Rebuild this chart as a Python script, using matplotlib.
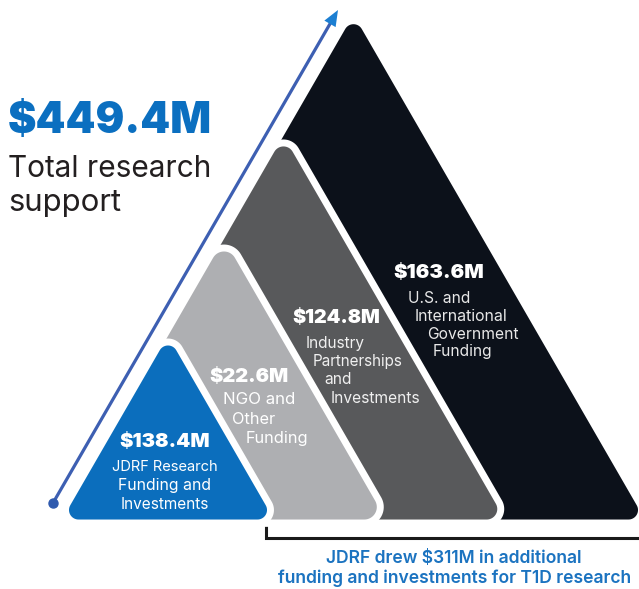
import numpy as np
import matplotlib
matplotlib.use("Agg")
import matplotlib.pyplot as plt
from matplotlib.patches import Polygon

# ---------------- data ----------------
values = [138.4, 22.6, 124.8, 163.6]
amount_labels = ["$138.4M", "$22.6M", "$124.8M", "$163.6M"]
category_lines = [
    ["JDRF Research", "Funding and", "Investments"],
    ["NGO and", "Other", "Funding"],
    ["Industry", "Partnerships", "and", "Investments"],
    ["U.S. and", "International", "Government", "Funding"],
]
total_label = "$449.4M"
total_text = ["Total research", "support"]
footnote = ["JDRF drew $311M in additional",
            "funding and investments for T1D research"]

# ---------------- style / layout ----------------
colors = ["#0b6ebd", "#aeafb2", "#58595b", "#0c111a"]
blue_text = "#0b6fc0"
W, H = 639, 589
fig = plt.figure(figsize=(W / 100, H / 100), dpi=100)
ax = fig.add_axes([0, 0, 1, 1])
ax.set_xlim(0, W)
ax.set_ylim(H, 0)
ax.axis("off")
renderer = fig.canvas.get_renderer()

FONT = ["Inter", "DejaVu Sans"]


def rounded_tri(xl, xr, yb, r, n=24):
    apex = np.array([(xl + xr) / 2, yb - (xr - xl) * np.sqrt(3) / 2])
    verts = [np.array([xl, yb], float), apex, np.array([xr, yb], float)]
    pts = []
    for i in range(3):
        v = verts[i]
        p = verts[i - 1]
        q = verts[(i + 1) % 3]
        u1 = (p - v) / np.linalg.norm(p - v)
        u2 = (q - v) / np.linalg.norm(q - v)
        bis = u1 + u2
        bis /= np.linalg.norm(bis)
        c = v + bis * 2 * r
        t1 = v + u1 * r * np.sqrt(3)
        t2 = v + u2 * r * np.sqrt(3)
        a1 = np.arctan2(t1[1] - c[1], t1[0] - c[0])
        a2 = np.arctan2(t2[1] - c[1], t2[0] - c[0])
        d = (a2 - a1 + np.pi) % (2 * np.pi) - np.pi
        angs = a1 + np.linspace(0, d, n)
        pts += list(zip(c[0] + r * np.cos(angs), c[1] + r * np.sin(angs)))
    return np.array(pts)


# triangle layout (left base shared, right base per segment)
x_left, y_base = 56, 523
x_rights = [280, 392, 511, 651]
radii = [13, 16, 14, 13]
for i in [3, 2, 1, 0]:
    pts = rounded_tri(x_left, x_rights[i], y_base, radii[i])
    ax.add_patch(Polygon(pts, closed=True, fc=colors[i], ec="white",
                         lw=5, joinstyle="round", zorder=2 + (3 - i)))


def fit_text(x, y, s, width, ha="left", **kw):
    t = ax.text(x, y, s, ha=ha, va="baseline", family=FONT, **kw)
    bb = t.get_window_extent(renderer)
    t.set_fontsize(t.get_fontsize() * width / bb.width)
    return t


# arrow
x0, y0 = 53, 503
tip = np.array([338.0, 10.0])
dvec = tip - np.array([x0, y0])
dvec /= np.linalg.norm(dvec)
nvec = np.array([-dvec[1], dvec[0]])
head_len, head_w = 16, 13
base = tip - dvec * head_len
ax.plot([x0, base[0] + dvec[0] * 2], [y0, base[1] + dvec[1] * 2],
        color="#3d5fb2", lw=2.3, solid_capstyle="butt", zorder=1)
ax.plot([x0], [y0], "o", color="#2f5aae", ms=6.5, zorder=1)
ax.add_patch(Polygon([tip, base + nvec * head_w / 2, base - nvec * head_w / 2],
                     closed=True, fc="#1c7fd2", ec="none", zorder=1))

# headline
fit_text(8, 133, total_label, 204, color=blue_text, fontsize=30, fontweight="black")
fit_text(8, 177, total_text[0], 204, color="#231f20", fontsize=22)
fit_text(8, 211, total_text[1], 113, color="#231f20", fontsize=22)

# segment labels: (x positions, baselines, widths, ha)
amount_pos = [(165, 447, 90, "center"), (209, 382, 79, "left"),
              (292, 323, 88, "left"), (393, 278, 90, "left")]
line_pos = [
    [(165, 471, 106, "center"), (165, 490, 92, "center"), (165, 509, 88, "center")],
    [(223, 404, 72, "left"), (232, 424, 43, "left"), (246, 443, 62, "left")],
    [(306, 348, 59, "left"), (313, 366, 90, "left"), (324, 384, 27, "left"), (331, 403, 89, "left")],
    [(408, 303, 62, "left"), (415, 321, 92, "left"), (427, 339, 91, "left"), (433, 356, 59, "left")],
]
line_colors = ["#ffffff", "#ffffff", "#f0f0f0", "#e8e8e8"]
for i in range(4):
    x, y, w, ha = amount_pos[i]
    fit_text(x, y, amount_labels[i], w, ha=ha, color="white", fontsize=14,
             fontweight="black", zorder=10)
    for s, (x, y, w, ha) in zip(category_lines[i], line_pos[i]):
        fit_text(x, y, s, w, ha=ha, color=line_colors[i], fontsize=11, zorder=10)

# bracket
ax.plot([266, 266, 639], [522, 537.5, 537.5], color="#1a1a1a", lw=2.2,
        solid_joinstyle="miter", zorder=1)

# footnote
fit_text(454, 563, footnote[0], 258, ha="center", color="#1b73c0",
         fontsize=12, fontweight="semibold")
fit_text(455, 583, footnote[1], 356, ha="center", color="#1b73c0",
         fontsize=12, fontweight="semibold")

fig.savefig("out.png", dpi=100)
